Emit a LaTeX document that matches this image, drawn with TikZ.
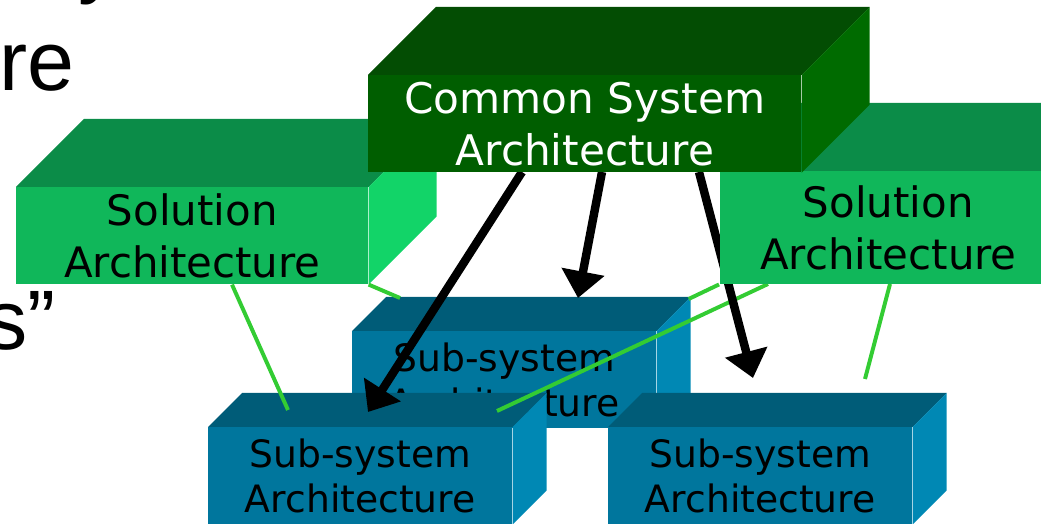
\documentclass[tikz,border=0pt]{standalone}
\usepackage{fontspec}
\newfontfamily\boxfont{DejaVu Sans}
\newfontfamily\slidefont{Liberation Sans}
\usetikzlibrary{calc,arrows.meta}
\definecolor{csafront}{HTML}{005E00}
\definecolor{csatop}{HTML}{034D03}
\definecolor{csaside}{HTML}{006B00}
\definecolor{solfront}{HTML}{10B75A}
\definecolor{soltop}{HTML}{0B8C48}
\definecolor{solside}{HTML}{12D468}
\definecolor{subfront}{HTML}{00769D}
\definecolor{subtop}{HTML}{005C78}
\definecolor{subside}{HTML}{0088B4}
\definecolor{linkgreen}{HTML}{33CC33}
% top and side faces behind a front node: #1 node, #2 depth, #3 top, #4 side
\newcommand{\boxfaces}[4]{
	\fill [#3] (#1.north west) -- ++(#2,-#2) -- ($(#1.north east)+(#2,-#2)$) -- (#1.north east) -- cycle;
	\fill [#4] (#1.north east) -- ++(#2,-#2) -- ($(#1.south east)+(#2,-#2)$) -- (#1.south east) -- cycle;
}
\tikzset{
	front/.style={inner sep=0pt, anchor=north west, align=center},
	csabox/.style={front, fill=csafront, text=white, minimum width=10.825cm, minimum height=2.425cm,
		font=\boxfont\fontsize{30}{37}\selectfont},
	solbox/.style={front, fill=solfront, minimum height=2.425cm,
		font=\boxfont\fontsize{29.8}{37}\selectfont},
	subbox/.style={front, fill=subfront, minimum width=7.6cm, minimum height=2.425cm,
		font=\boxfont\fontsize{26.8}{32}\selectfont},
	slide/.style={inner sep=0pt, anchor=base west, font=\slidefont\fontsize{60}{72}\selectfont},
	uses/.style={line width=6pt, -{Triangle[width=30pt,length=19pt]}},
	link/.style={linkgreen, line width=2.8pt}
}
\begin{document}
\begin{tikzpicture}[x=0.025cm, y=-0.025cm]
	\useasboundingbox (0,0) rectangle (1041,524);
	\clip (0,0) rectangle (1041,524);
	% slide text behind the picture
	\node (texty) [slide] at (78,-12) {y};
	\node (textre) [slide] at (-1,91) {re};
	\node (texts) [slide] at (-15,350) {s”};
	% boxes, back to front
	\node (lsol) [solbox, minimum width=8.8cm] at (16,187) {Solution\\Architecture};
	\boxfaces{lsol}{68}{soltop}{solside}
	\node (subm) [subbox] at (352,331) {Sub-system\\Architecture};
	\boxfaces{subm}{34}{subtop}{subside}
	\node (subl) [subbox] at (208,427) {Sub-system\\Architecture};
	\boxfaces{subl}{34}{subtop}{subside}
	\node (subr) [subbox] at (608,427) {Sub-system\\Architecture};
	\boxfaces{subr}{34}{subtop}{subside}
	% green links
	\draw [link] ($(lsol.south west)+(216,0)$) -- ($(subl.north west)+(80,-17)$);
	\draw [link] (lsol.south east) -- ($(subm.north west)+(48,-33)$);
	\node (rsolspot) [inner sep=0pt] at (720,284) {};
	\draw [link] ($(rsolspot)+(48,0)$) -- ($(subl.north west)+(289,-16)$);
	\draw [link] (rsolspot) -- ($(subm.north east)+(32,-32)$);
	\draw [link] ($(rsolspot)+(170,0)$) -- ($(subr.north west)+(257,-48)$);
	% black arrows
	\node (csaspot) [inner sep=0pt] at (368,172) {};
	\draw [uses] ($(csaspot)+(154,0)$) -- ($(subl.north west)+(160,-15)$);
	\draw [uses] ($(csaspot)+(234,0)$) -- ($(subm.north west)+(226,-33)$);
	\draw [uses] ($(csaspot)+(331,0)$) -- ($(subr.north west)+(145,-49)$);
	\node (rsol) [solbox, minimum width=8.4cm, minimum height=2.825cm] at (720,171) {Solution\\Architecture};
	\boxfaces{rsol}{68}{soltop}{solside}
	\node (csa) [csabox] at (368,75) {Common System\\Architecture};
	\boxfaces{csa}{68}{csatop}{csaside}
\end{tikzpicture}
\end{document}
